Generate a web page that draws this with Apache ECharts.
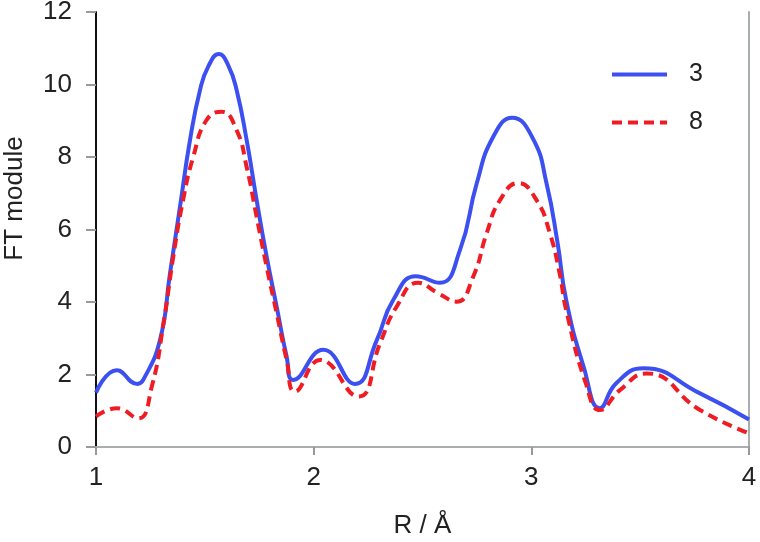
<!DOCTYPE html>
<html><head>
<meta charset="UTF-8">
<title>FT module</title>
<script src="https://cdn.jsdelivr.net/npm/echarts@6/dist/echarts.min.js"></script>
<style>
html,body{margin:0;padding:0;background:#fff;}
#chart{width:760px;height:542px;}
</style>
</head>
<body>
<div id="chart"></div>
<script>
// R / Å 与 FT module，读自原图
var r3 = [1.00, 1.095, 1.19, 1.217, 1.294, 1.34, 1.386, 1.432, 1.478, 1.516, 1.565, 1.608, 1.646, 1.692, 1.738, 1.784, 1.83, 1.876, 1.906, 2.044, 2.19, 2.29, 2.366, 2.47, 2.58, 2.672, 2.749, 2.825, 2.912, 3.008, 3.07, 3.12, 3.16, 3.24, 3.315, 3.39, 3.515, 3.775, 4.00];
var v3 = [1.50, 2.12, 1.74, 1.85, 2.95, 4.79, 6.63, 8.47, 9.85, 10.50, 10.84, 10.52, 9.85, 8.47, 6.81, 5.25, 3.87, 2.49, 1.85, 2.68, 1.74, 2.95, 4.06, 4.71, 4.53, 5.43, 7.27, 8.56, 9.08, 8.50, 7.27, 5.65, 4.06, 2.22, 1.07, 1.76, 2.17, 1.48, 0.76];
var r8 = [1.00, 1.095, 1.194, 1.256, 1.31, 1.355, 1.40, 1.447, 1.508, 1.577, 1.646, 1.692, 1.738, 1.784, 1.83, 1.876, 1.914, 2.03, 2.205, 2.305, 2.381, 2.48, 2.572, 2.657, 2.733, 2.795, 2.856, 2.94, 3.024, 3.085, 3.13, 3.16, 3.25, 3.315, 3.407, 3.53, 3.775, 3.99];
var v8 = [0.84, 1.07, 0.79, 1.66, 3.41, 5.25, 6.81, 8.01, 9.02, 9.25, 8.74, 7.73, 6.35, 4.97, 3.69, 2.40, 1.53, 2.40, 1.39, 2.86, 3.87, 4.53, 4.24, 4.01, 4.70, 5.90, 6.81, 7.28, 6.81, 5.90, 4.79, 3.78, 1.76, 1.02, 1.57, 2.03, 1.02, 0.40];
var names = ['3', '8'];

function pairs(xs, ys) {
    var out = [];
    for (var i = 0; i < xs.length; i++) out.push([xs[i], ys[i]]);
    return out;
}

var font = 'Liberation Sans';
var chart = echarts.init(document.getElementById('chart'));
chart.setOption({
    animation: false,
    grid: {left: 96, right: 11, top: 12, bottom: 95, containLabel: false, outerBoundsMode: 'none'},
    legend: {
        data: names, orient: 'vertical', left: 605, top: 57,
        itemWidth: 55, itemHeight: 14, itemGap: 23,
        itemStyle: {opacity: 0},
        lineStyle: {width: 4},
        textStyle: {color: '#222', fontFamily: font, fontSize: 25, padding: [0, 0, 0, 17]}
    },
    xAxis: [{
        type: 'value', min: 1, max: 4, interval: 1,
        name: 'R / Å', nameLocation: 'middle', nameGap: 66,
        nameTextStyle: {color: '#222', fontFamily: font, fontSize: 26},
        axisLabel: {color: '#222', fontFamily: font, fontSize: 26, margin: 18},
        axisLine: {onZero: false, lineStyle: {color: '#111', width: 2}},
        axisTick: {show: true, length: 8, lineStyle: {color: '#999', width: 2}},
        splitLine: {show: false}
    }, {
        type: 'value', position: 'top', min: 1, max: 4,
        axisLine: {show: true, lineStyle: {color: '#a8aeae', width: 2}},
        axisTick: {show: false}, axisLabel: {show: false}, splitLine: {show: false}
    }],
    yAxis: [{
        type: 'value', min: 0, max: 12, interval: 2,
        name: 'FT module', nameLocation: 'middle', nameGap: 68,
        nameTextStyle: {color: '#222', fontFamily: font, fontSize: 26, padding: [0, 0, 0, 62]},
        axisLabel: {color: '#222', fontFamily: font, fontSize: 26, margin: 24},
        axisLine: {show: true, onZero: false, lineStyle: {color: '#111', width: 2}},
        axisTick: {show: true, length: 10, lineStyle: {color: '#999', width: 2}},
        splitLine: {show: false}
    }, {
        type: 'value', position: 'right', min: 0, max: 12,
        axisLine: {show: true, lineStyle: {color: '#a8aeae', width: 2}},
        axisTick: {show: false}, axisLabel: {show: false}, splitLine: {show: false}
    }],
    series: [{
        name: names[0], type: 'line', smooth: 0.5, symbol: 'none',
        data: pairs(r3, v3),
        lineStyle: {color: '#3c4ff0', width: 4},
        itemStyle: {color: '#3c4ff0'}
    }, {
        name: names[1], type: 'line', smooth: 0.5, symbol: 'none',
        data: pairs(r8, v8),
        lineStyle: {color: '#f01c24', width: 4, type: [10, 6]},
        itemStyle: {color: '#f01c24'}
    }]
});
</script>
</body></html>
